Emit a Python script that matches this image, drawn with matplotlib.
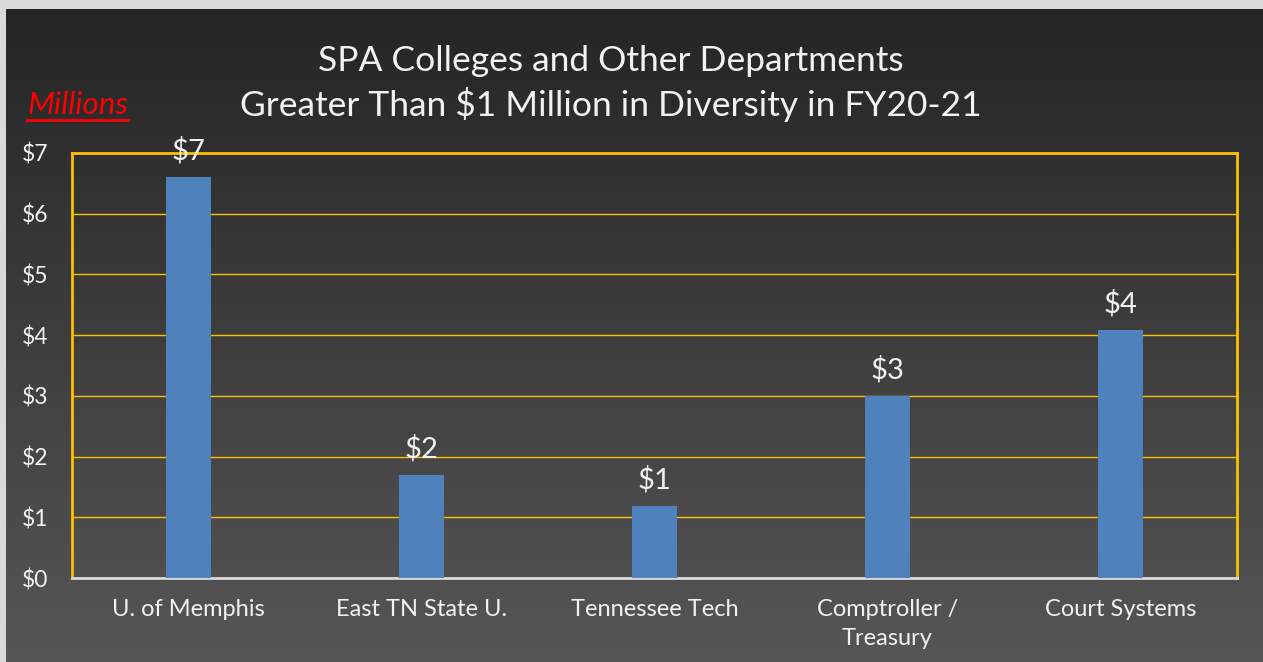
import numpy as np
import matplotlib
matplotlib.use("Agg")
from matplotlib import pyplot as plt
from matplotlib.colors import LinearSegmentedColormap

categories = ["U. of Memphis", "East TN State U.", "Tennessee Tech", "Comptroller /\nTreasury", "Court Systems"]
values = [6.6, 1.7, 1.19, 3.0, 4.09]
labels = ["$7", "$2", "$1", "$3", "$4"]
yticks = [0, 1, 2, 3, 4, 5, 6, 7]

plt.rcParams['font.family'] = ['Lato', 'DejaVu Sans']

fig = plt.figure(figsize=(12.63, 6.62), dpi=100)
fig.patch.set_facecolor('#d9d9d9')

# background gradient
bg = fig.add_axes([6 / 1263, 0, 1 - 6 / 1263, 1 - 9 / 662])
cmap = LinearSegmentedColormap.from_list('bg', ['#252525', '#565656'])
bg.imshow(np.linspace(0, 1, 256).reshape(-1, 1), aspect='auto', cmap=cmap, extent=[0, 1, 0, 1])
bg.axis('off')

gold = '#ffc000'
ax = fig.add_axes([72 / 1263, 1 - 578 / 662, (1237 - 72) / 1263, (578 - 153) / 662])
ax.patch.set_alpha(0)
x = np.arange(len(categories))
bars = ax.bar(x, values, width=0.19, color='#4f81bd', zorder=3)
ax.set_xlim(-0.5, len(categories) - 0.5)
ax.set_ylim(0, 7)
ax.set_yticks(yticks)
ax.set_yticklabels([f"${v}" for v in yticks], color='#f2f2f2', fontsize=16.5)
ax.set_xticks(x)
ax.set_xticklabels(categories, color='#f2f2f2', fontsize=17, linespacing=1.5)
ax.tick_params(axis='x', length=0, pad=15)
ax.tick_params(axis='y', length=0, pad=36)
for t in ax.get_yticklabels():
    t.set_horizontalalignment('left')
ax.grid(axis='y', color=gold, linewidth=1, zorder=0)
for s in ['left', 'top', 'right']:
    ax.spines[s].set_color(gold)
    ax.spines[s].set_linewidth(2)
ax.spines['bottom'].set_color('#d9d9d9')
ax.spines['bottom'].set_linewidth(2)

for b, lab in zip(bars, labels):
    ax.annotate(lab, (b.get_x() + b.get_width() / 2, b.get_height()), xytext=(0, 9),
                textcoords='offset points', ha='center', va='bottom', color='#f2f2f2', fontsize=21)

fig.text(0.484, 1 - 61 / 662, "SPA Colleges and Other Departments", ha='center', va='center',
         color='#f2f2f2', fontsize=25.5)
fig.text(0.484, 1 - 105 / 662, "Greater Than $1 Million in Diversity in FY20-21", ha='center', va='center',
         color='#f2f2f2', fontsize=25.5)
t = fig.text(27 / 1263, 1 - 105 / 662, "Millions", ha='left', va='center', color='#ff0000',
             fontsize=22.5, style='italic')
fig.canvas.draw()
bb = t.get_window_extent()
fig.add_artist(plt.Line2D([bb.x0 / 1263, bb.x1 / 1263], [(bb.y0 - 1) / 662] * 2, color='#ff0000', linewidth=2))

fig.savefig("out.png", dpi=100, facecolor=fig.get_facecolor())
